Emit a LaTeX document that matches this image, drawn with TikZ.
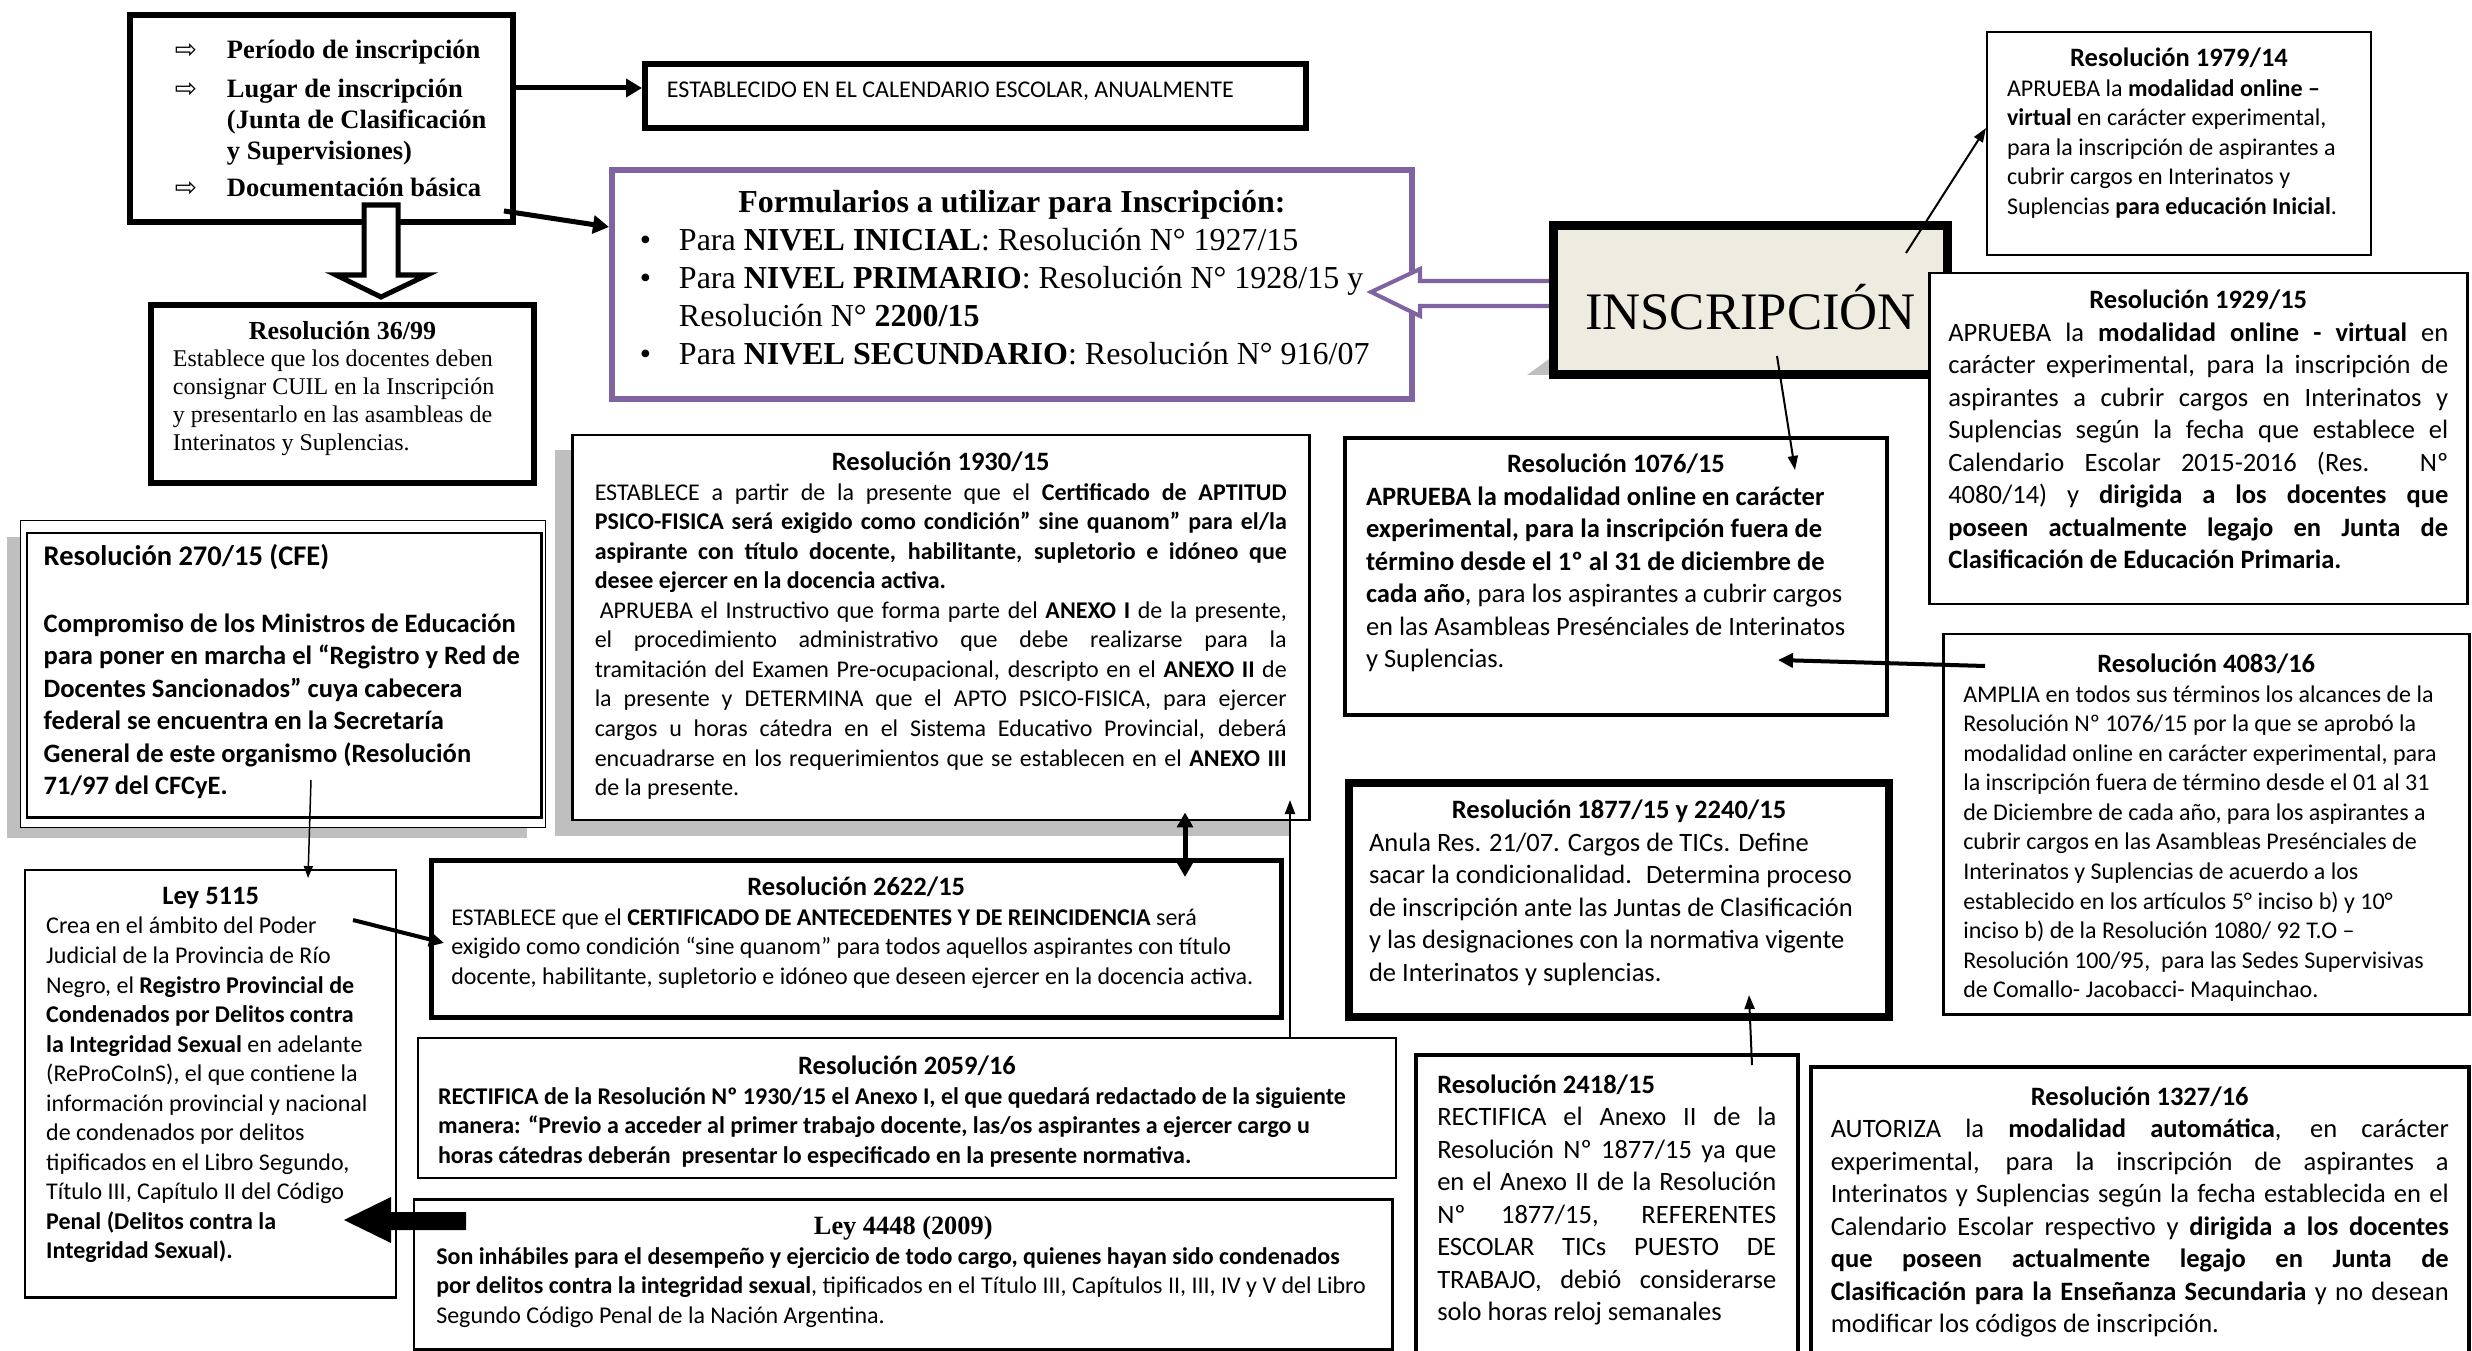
\documentclass[tikz,border=0pt]{standalone}
\usepackage{fontspec}
\setmainfont{Liberation Serif}
\newfontfamily\calibri{Carlito}
\newfontfamily\flechas{DejaVu Sans}
\usetikzlibrary{arrows.meta,calc}

\newlength\px
\setlength\px{0.02cm}
\definecolor{lila}{HTML}{8064A2}
\definecolor{sombra}{HTML}{BFBFBF}
\definecolor{crema}{HTML}{EEECE1}
\hyphenpenalty=10000
\exhyphenpenalty=10000
\tolerance=10000

\newcommand\chico{\calibri\fontsize{13.66}{16.8}\selectfont}
\newcommand\grande{\calibri\fontsize{15.1}{18.5}\selectfont}
\newcommand\titulo[1]{{\centering\calibri\bfseries\fontsize{15.1}{18.5}\selectfont #1\par}}
\newcommand\cuerpo[3]{\parbox[c][#2\px][t]{#1\px}{#3}}
\newcommand\punta{\makebox[52\px][l]{\flechas\mdseries ⇨}}

\begin{document}
\begin{tikzpicture}
\tikzset{x={(0.02cm,0cm)}, y={(0cm,-0.02cm)}}
\tikzset{
  recuadro/.style={draw, fill=white, anchor=north west, inner sep=0pt, line width=1.42pt},
  fina/.style={line width=1.14pt, -{Triangle[length=8pt,width=5.7pt]}},
  delgada/.style={line width=0.85pt, -{Triangle[length=6.8pt,width=5.1pt]}},
  media/.style={line width=2.28pt, -{Triangle[length=8.5pt,width=8pt]}},
  gruesa/.style={line width=2.85pt, -{Triangle[length=9.1pt,width=10.2pt]}},
  doble/.style={line width=2.85pt, {Triangle[length=8.5pt,width=9pt]}-{Triangle[length=8.5pt,width=9pt]}},
}
\useasboundingbox (0,0) rectangle (2472,1351);

% sombras
\fill[sombra] (7,537) rectangle (527,838);
\fill[sombra] (555,450) rectangle (1290,836);

% cuadros de la izquierda y del centro
\node[recuadro, line width=3.4pt, minimum width=383*\px, minimum height=207*\px] (lista) at (127,12)
  {\cuerpo{363}{157}{\bfseries\fontsize{15.1}{17.6}\selectfont
   \hspace*{35\px}\punta Período de inscripción\\[8\px]
   \hspace*{35\px}\punta Lugar de inscripción\\
   \hspace*{87\px}(Junta de Clasificación\\
   \hspace*{87\px}y Supervisiones)\\[6\px]
   \hspace*{35\px}\punta Documentación básica}};

\node[recuadro, line width=3.4pt, minimum width=661*\px, minimum height=64*\px] (calend) at (642,61)
  {\cuerpo{617}{28}{\chico ESTABLECIDO EN EL CALENDARIO ESCOLAR, ANUALMENTE}};

\node[recuadro, draw=lila, line width=3.4pt, minimum width=800*\px, minimum height=229*\px] (formul) at (609,167)
  {\cuerpo{744}{189}{{\centering\bfseries\fontsize{18.2}{21.6}\selectfont Formularios a utilizar para Inscripción:\par}
   \fontsize{18.2}{21.6}\selectfont
   \makebox[39\px][l]{•}Para \textbf{NIVEL INICIAL}: Resolución N° 1927/15\\
   \makebox[39\px][l]{•}Para \textbf{NIVEL PRIMARIO}: Resolución N° 1928/15 y\\
   \hspace*{39\px}Resolución N° \textbf{2200/15}\\
   \makebox[39\px][l]{•}Para \textbf{NIVEL SECUNDARIO}: Resolución N° 916/07}};

\node[recuadro, line width=3.4pt, minimum width=383*\px, minimum height=178*\px] (res3699) at (148,302)
  {\cuerpo{339}{146}{{\centering\bfseries\fontsize{14.8}{16}\selectfont Resolución 36/99\par}
   \fontsize{13.66}{15.9}\selectfont
   Establece que los docentes deben\\ consignar CUIL en la Inscripción\\
   y presentarlo en las asambleas de\\ Interinatos y Suplencias.}};

\node[recuadro, line width=0.85pt, minimum width=525*\px, minimum height=307*\px] (res270) at (20,520)
  {\cuerpo{479}{259}{\calibri\bfseries\fontsize{16.2}{18.5}\selectfont Resolución 270/15 (CFE)\par
   \vspace{34\px}\grande\bfseries
   Compromiso de los Ministros de Educación\\
   para poner en marcha el “Registro y Red de\\
   Docentes Sancionados” cuya cabecera\\
   federal se encuentra en la Secretaría\\
   General de este organismo (Resolución\\
   71/97 del CFCyE.}};
\draw[line width=1.7pt] ($(res270.north west)+(7,13)$) rectangle ($(res270.south east)+(-5,-11)$);

\node[recuadro, minimum width=737*\px, minimum height=385*\px] (res1930) at (571,434)
  {\cuerpo{692}{351}{\titulo{Resolución 1930/15}\chico
   ESTABLECE a partir de la presente que el \textbf{Certificado de APTITUD}\linebreak
   \textbf{PSICO-FISICA será exigido como condición” sine quanom” para el/la}\linebreak
   \textbf{aspirante con título docente, habilitante, supletorio e idóneo que}\linebreak
   \textbf{desee ejercer en la docencia activa.}\par
   \hspace*{5\px}APRUEBA el Instructivo que forma parte del \textbf{ANEXO I} de la presente,\linebreak
   el procedimiento administrativo que debe realizarse para la\linebreak
   tramitación del Examen Pre-ocupacional, descripto en el \textbf{ANEXO II} de\linebreak
   la presente y DETERMINA que el APTO PSICO-FISICA, para ejercer\linebreak
   cargos u horas cátedra en el Sistema Educativo Provincial, deberá\linebreak
   encuadrarse en los requerimientos que se establecen en el \textbf{ANEXO III}\linebreak
   de la presente.}};

\node[recuadro, line width=2.56pt, minimum width=850*\px, minimum height=157*\px] (res2622) at (429,858)
  {\cuerpo{810}{123}{\titulo{Resolución 2622/15}\chico\raggedright
   ESTABLECE que el \textbf{CERTIFICADO DE ANTECEDENTES Y DE REINCIDENCIA} será\\
   exigido como condición “sine quanom” para todos aquellos aspirantes con título\\
   docente, habilitante, supletorio e idóneo que deseen ejercer en la docencia activa.}};

\node[recuadro, line width=1.14pt, minimum width=978*\px, minimum height=140*\px] (res2059) at (417,1037)
  {\cuerpo{938}{104}{\titulo{Resolución 2059/16}\chico\bfseries\raggedright
   RECTIFICA de la Resolución Nº 1930/15 el Anexo I, el que quedará redactado de la siguiente\\
   manera: “Previo a acceder al primer trabajo docente, las/os aspirantes a ejercer cargo u\\
   horas cátedras deberán \ presentar lo especificado en la presente normativa.}};

\node[recuadro, minimum width=978*\px, minimum height=150*\px] (ley4448) at (413,1198)
  {\cuerpo{934}{116}{{\centering\bfseries\fontsize{15}{16}\selectfont Ley 4448 (2009)\par}\chico\raggedright
   \textbf{Son inhábiles para el desempeño y ejercicio de todo cargo, quienes hayan sido condenados}\\
   \textbf{por delitos contra la integridad sexual}, tipificados en el Título III, Capítulos II, III, IV y V del Libro\\
   Segundo Código Penal de la Nación Argentina.}};

\node[recuadro, minimum width=371*\px, minimum height=427*\px] (ley5115) at (24,869)
  {\cuerpo{329}{393}{\titulo{Ley 5115}\chico\raggedright
   Crea en el ámbito del Poder\\
   Judicial de la Provincia de Río\\
   Negro, el \textbf{Registro Provincial de}\\
   \textbf{Condenados por Delitos contra}\\
   \textbf{la Integridad Sexual} en adelante\\
   (ReProCoInS), el que contiene la\\
   información provincial y nacional\\
   de condenados por delitos\\
   tipificados en el Libro Segundo,\\
   Título III, Capítulo II del Código\\
   \textbf{Penal (Delitos contra la}\\
   \textbf{Integridad Sexual).}}};

% cuadros de la derecha
\node[recuadro, line width=2.28pt, minimum width=542*\px, minimum height=277*\px] (res1076) at (1343,436)
  {\cuerpo{500}{245}{\titulo{Resolución 1076/15}\grande\raggedright
   \textbf{APRUEBA la modalidad online en carácter}\\
   \textbf{experimental, para la inscripción fuera de}\\
   \textbf{término desde el 1º al 31 de diciembre de}\\
   \textbf{cada año}, para los aspirantes a cubrir cargos\\
   en las Asambleas Presénciales de Interinatos\\
   y Suplencias.}};

\node[recuadro, line width=4.55pt, minimum width=540*\px, minimum height=234*\px] (res1877) at (1345,779)
  {\cuerpo{500}{200}{\titulo{Resolución 1877/15 y 2240/15}\grande\raggedright
   Anula Res. 21/07. Cargos de TICs. Define\\
   sacar la condicionalidad. \ Determina proceso\\
   de inscripción ante las Juntas de Clasificación\\
   y las designaciones con la normativa vigente\\
   de Interinatos y suplencias.}};

\node[recuadro, minimum width=526*\px, minimum height=380*\px] (res4083) at (1942,633)
  {\cuerpo{486}{340}{\titulo{Resolución 4083/16}\chico\raggedright
   AMPLIA en todos sus términos los alcances de la\\
   Resolución Nº 1076/15 por la que se aprobó la\\
   modalidad online en carácter experimental, para\\
   la inscripción fuera de término desde el 01 al 31\\
   de Diciembre de cada año, para los aspirantes a\\
   cubrir cargos en las Asambleas Presénciales de\\
   Interinatos y Suplencias de acuerdo a los\\
   establecido en los artículos 5° inciso b) y 10°\\
   inciso b) de la Resolución 1080/ 92 T.O –\\
   Resolución 100/95, \ para las Sedes Supervisivas\\
   de Comallo- Jacobacci- Maquinchao.}};

\node[recuadro, line width=2pt, minimum width=382*\px, minimum height=347*\px] (res2418) at (1414,1053)
  {\cuerpo{339}{307}{{\calibri\bfseries\fontsize{15.1}{18.5}\selectfont Resolución 2418/15\par}\grande
   RECTIFICA el Anexo II de la\linebreak
   Resolución Nº 1877/15 ya que\linebreak
   en el Anexo II de la Resolución\linebreak
   Nº 1877/15, REFERENTES\linebreak
   ESCOLAR TICs PUESTO DE\linebreak
   TRABAJO, debió considerarse\linebreak
   solo horas reloj semanales}};

\node[recuadro, line width=2pt, minimum width=658*\px, minimum height=335*\px] (res1327) at (1809,1065)
  {\cuerpo{618}{295}{\titulo{Resolución 1327/16}\grande
   AUTORIZA la \textbf{modalidad automática}, en carácter\linebreak
   experimental, para la inscripción de aspirantes a\linebreak
   Interinatos y Suplencias según la fecha establecida en el\linebreak
   Calendario Escolar respectivo y \textbf{dirigida a los docentes}\linebreak
   \textbf{que poseen actualmente legajo en Junta de}\linebreak
   \textbf{Clasificación para la Enseñanza Secundaria} y no desean\linebreak
   modificar los códigos de inscripción.}};

\node[recuadro, line width=1.14pt, minimum width=384*\px, minimum height=223*\px] (res1979) at (1986,31)
  {\cuerpo{344}{191}{\titulo{Resolución 1979/14}\chico\raggedright
   APRUEBA la \textbf{modalidad online –}\\
   \textbf{virtual} en carácter experimental,\\
   para la inscripción de aspirantes a\\
   cubrir cargos en Interinatos y\\
   Suplencias \textbf{para educación Inicial}.}};

% flecha hueca violeta y cuadro central
\draw[lila, line width=2.3pt, fill=white] (1552,281) -- (1420,281) -- (1420,269) -- (1371,292)
  -- (1420,316) -- (1420,306) -- (1552,306) -- cycle;
\fill[sombra] (1527,375) -- (1549,359) -- (1549,375) -- cycle;
\node[draw, line width=4.55pt, fill=crema, anchor=north west, inner sep=0pt,
  minimum width=395*\px, minimum height=150*\px, font=\fontsize{30}{36}\selectfont] (inscr) at (1549,221)
  {\raisebox{-7\px}[\height][\depth]{INSCRIPCIÓN}};
\draw[line width=1.14pt] ($(inscr.north west)+(8,8)$) rectangle ($(inscr.south east)+(-8,-8)$);

\node[recuadro, minimum width=538*\px, minimum height=331*\px] (res1929) at (1928,272)
  {\cuerpo{500}{297}{\titulo{Resolución 1929/15}\grande
   APRUEBA la \textbf{modalidad online - virtual} en\linebreak
   carácter experimental, para la inscripción de\linebreak
   aspirantes a cubrir cargos en Interinatos y\linebreak
   Suplencias según la fecha que establece el\linebreak
   Calendario Escolar 2015-2016 (Res. Nº\linebreak
   4080/14) y \textbf{dirigida a los docentes que}\linebreak
   \textbf{poseen actualmente legajo en Junta de}\linebreak
   \textbf{Clasificación de Educación Primaria.}}};

% flechas
\draw[gruesa] ($(lista.north east)+(0,76)$) -- ($(calend.north west)+(0,27)$);
\draw[gruesa] ($(lista.south east)+(-12,-14)$) -- ($(formul.north west)+(0,60)$);
\draw[line width=2.85pt, fill=white] (364,205) -- (398,205) -- (398,275) -- (427,275) -- (381,297)
  -- (336,275) -- (364,275) -- cycle;
\draw[fina] ($(inscr.north east)+(-46,32)$) -- ($(res1979.north west)+(0,97)$);
\draw[fina] ($(inscr.south west)+(228,-23)$) -- ($(res1076.north west)+(452,34)$);
\draw[media] ($(res4083.north west)+(43,33)$) -- ($(res1076.north west)+(435,224)$);
\draw[fina] ($(res2418.north west)+(338,12)$) -- ($(res1877.north west)+(404,216)$);
\draw[delgada] ($(res270.north west)+(291,260)$) -- ($(ley5115.north west)+(284,9)$);
\draw[media] ($(ley5115.north west)+(329,51)$) -- ($(res2622.north west)+(15,85)$);
\draw[doble] ($(res1930.south west)+(614,-9)$) -- ($(res2622.north west)+(756,19)$);
\draw[fina] ($(res2059.north west)+(873,0)$) -- ($(res1930.north west)+(719,366)$);
\fill (466,1212) -- (391,1212) -- (391,1197) -- (344,1220) -- (391,1243) -- (391,1230) -- (466,1230) -- cycle;
\end{tikzpicture}
\end{document}
